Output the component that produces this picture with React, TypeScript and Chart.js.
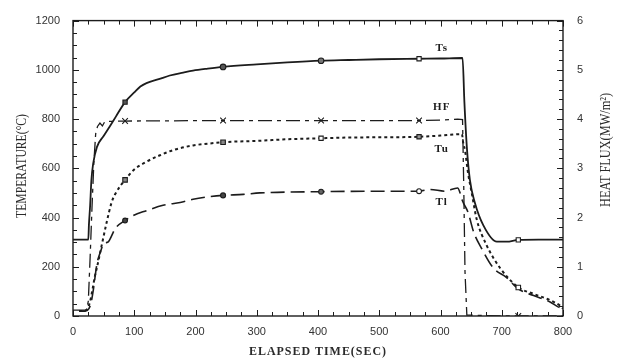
import { useEffect, useRef } from "react";
import { Chart, registerables } from "chart.js";
Chart.register(...registerables);

// ---- data (time in s, temperature in °C, heat flux in MW/m²) ----
const TS_TIME = [0, 25, 26, 28, 30, 33, 39, 50, 60, 70, 85, 100, 110, 120, 140, 158, 180, 196, 220, 245, 300, 350, 405, 450, 500, 565, 600, 636, 639, 643, 648, 656, 670, 692, 708, 727, 760, 800];
const TS_TEMP = [310, 310, 370, 450, 550, 620, 686, 731, 770, 810, 869, 908, 932, 946, 962, 977, 989, 997, 1005, 1012, 1022, 1030, 1037, 1040, 1043, 1045, 1046, 1048, 870, 686, 553, 461, 368, 302, 302, 309, 310, 310];

const HF_TIME = [0, 22, 25, 28, 31, 34, 37, 40, 44, 48, 52, 85, 245, 405, 565, 600, 628, 636, 638, 640, 643, 700, 727, 800];
const HF_FLUX = [0.12, 0.12, 0.3, 1.2, 2.2, 3.1, 3.7, 3.85, 3.92, 3.86, 3.95, 3.96, 3.97, 3.97, 3.97, 3.98, 4.0, 3.99, 2.6, 0.9, 0.02, 0, 0, 0];

const TU_TIME = [10, 20, 24, 28, 32, 36, 39, 47, 55, 63, 70, 85, 100, 115, 142, 165, 196, 220, 245, 305, 350, 405, 450, 500, 565, 600, 635, 637, 640, 645, 651, 659, 675, 697, 727, 752, 779, 795, 800];
const TU_TEMP = [20, 22, 32, 60, 110, 165, 196, 289, 381, 461, 500, 553, 595, 620, 653, 675, 693, 700, 706, 712, 718, 722, 725, 726, 728, 733, 739, 705, 673, 580, 500, 394, 289, 196, 116, 90, 64, 42, 30];

const TL_TIME = [10, 20, 26, 30, 33, 39, 45, 50, 58, 60, 69, 85, 98, 120, 147, 175, 196, 224, 245, 278, 305, 405, 501, 565, 583, 607, 628, 632, 636, 645, 654, 667, 686, 708, 727, 752, 779, 792, 800];
const TL_TEMP = [20, 20, 30, 60, 103, 210, 262, 292, 302, 310, 355, 388, 408, 428, 450, 461, 474, 485, 490, 494, 500, 505, 507, 507, 514, 507, 520, 500, 467, 421, 342, 275, 196, 156, 110, 83, 57, 37, 30];

const MARKER_TIMES = [85, 245, 405, 565, 727];

const SERIES_LABELS = ["Ts", "HF", "Tu", "Tl"];
const LABEL_TIME = [602, 602, 602, 602];
const LABEL_TEMP = [1090, 848, 679, 461];

const X_TITLE = "ELAPSED TIME(SEC)";
const Y_TITLE = "TEMPERATURE(\u00B0C)";
const Y2_TITLE = "HEAT FLUX(MW/m\u00B2)";

const INK = "#1c1c1c";

function pts(xs: number[], ys: number[]) {
  return xs.map((x, i) => ({ x, y: ys[i] }));
}

type MarkerSpec = { style: string; fill: string; r: number } | null;

function markerOpts(specs: MarkerSpec[]) {
  const get = (ctx: any): MarkerSpec => {
    const raw = ctx.raw;
    if (!raw) return null;
    const i = MARKER_TIMES.indexOf(raw.x);
    return i >= 0 ? specs[i] : null;
  };
  return {
    pointRadius: (ctx: any) => (get(ctx) ? get(ctx)!.r : 0),
    pointHoverRadius: 0,
    pointStyle: (ctx: any) => (get(ctx) ? get(ctx)!.style : "circle"),
    pointBackgroundColor: (ctx: any) => (get(ctx) ? get(ctx)!.fill : INK),
    pointBorderColor: INK,
    pointBorderWidth: 1.1,
  };
}

const framePlugin = {
  id: "frameTicks",
  afterDatasetsDraw(chart: any) {
    const { ctx, chartArea } = chart;
    const { left, right, top, bottom } = chartArea;
    const x = chart.scales.x;
    const y = chart.scales.y;
    const y2 = chart.scales.y2;
    ctx.save();
    ctx.strokeStyle = INK;
    ctx.lineWidth = 1.4;
    ctx.setLineDash([]);
    ctx.strokeRect(left, top, right - left, bottom - top);
    ctx.lineWidth = 1;
    ctx.beginPath();
    for (let v = 0; v <= 1200; v += 50) {
      const py = Math.round(y.getPixelForValue(v)) + 0.5;
      const len = v % 200 === 0 ? 6 : 4;
      ctx.moveTo(left, py);
      ctx.lineTo(left + len, py);
    }
    for (let k = 0; k <= 30; k++) {
      const v = k * 0.2;
      const py = Math.round(y2.getPixelForValue(v)) + 0.5;
      const len = k % 5 === 0 ? 6 : 4;
      ctx.moveTo(right, py);
      ctx.lineTo(right - len, py);
    }
    for (let v = 0; v <= 800; v += 25) {
      const px = Math.round(x.getPixelForValue(v)) + 0.5;
      const len = v % 100 === 0 ? 6 : 4;
      ctx.moveTo(px, bottom);
      ctx.lineTo(px, bottom - len);
      ctx.moveTo(px, top);
      ctx.lineTo(px, top + len);
    }
    ctx.stroke();

    // series labels
    ctx.fillStyle = INK;
    ctx.font = "bold 11px 'Liberation Serif'";
    (ctx as any).letterSpacing = "1px";
    ctx.textAlign = "center";
    ctx.textBaseline = "middle";
    SERIES_LABELS.forEach((t, i) => {
      ctx.fillText(t, x.getPixelForValue(LABEL_TIME[i]), y.getPixelForValue(LABEL_TEMP[i]));
    });

    // axis titles
    (ctx as any).letterSpacing = "1px";
    ctx.font = "bold 12px 'Liberation Serif'";
    ctx.fillStyle = "#2a2a2a";
    ctx.fillText(X_TITLE, (left + right) / 2, 352, 138);
    (ctx as any).letterSpacing = "0px";
    ctx.font = "14px 'Liberation Serif'";
    ctx.save();
    ctx.translate(22, 166);
    ctx.rotate(-Math.PI / 2);
    ctx.fillText(Y_TITLE, 0, 0, 104);
    ctx.restore();
    ctx.save();
    ctx.translate(606, 150);
    ctx.rotate(-Math.PI / 2);
    ctx.fillText(Y2_TITLE, 0, 0, 114);
    ctx.restore();
    ctx.restore();
  },
};

export default function App() {
  const ref = useRef<HTMLCanvasElement | null>(null);
  useEffect(() => {
    document.body.style.margin = "0";
    const canvas = ref.current!;
    const tickFont = { family: "'Liberation Sans', Arial", size: 11 };
    const plain = (v: any) => String(v);
    const chart = new Chart(canvas, {
      type: "line",
      data: {
        datasets: [
          {
            label: "Ts",
            data: pts(TS_TIME, TS_TEMP),
            borderColor: INK,
            borderWidth: 1.8,
            yAxisID: "y",
            cubicInterpolationMode: "monotone",
            ...markerOpts([
              { style: "rect", fill: "#555", r: 3 },
              { style: "circle", fill: "#555", r: 2.8 },
              { style: "circle", fill: "#777", r: 2.8 },
              { style: "rect", fill: "#fff", r: 3 },
              { style: "rect", fill: "#fff", r: 3 },
            ]),
          } as any,
          {
            label: "HF",
            data: pts(HF_TIME, HF_FLUX),
            borderColor: INK,
            borderWidth: 1.3,
            borderDash: [14, 5, 4, 5],
            yAxisID: "y2",
            ...markerOpts([
              { style: "crossRot", fill: INK, r: 4 },
              { style: "crossRot", fill: INK, r: 4 },
              { style: "crossRot", fill: INK, r: 4 },
              { style: "crossRot", fill: INK, r: 4 },
              { style: "crossRot", fill: INK, r: 4 },
            ]),
          } as any,
          {
            label: "Tu",
            data: pts(TU_TIME, TU_TEMP),
            borderColor: INK,
            borderWidth: 2,
            borderDash: [3, 3],
            yAxisID: "y",
            cubicInterpolationMode: "monotone",
            ...markerOpts([
              { style: "rect", fill: "#888", r: 3.2 },
              { style: "rect", fill: "#888", r: 3.2 },
              { style: "rect", fill: "#fff", r: 3 },
              { style: "rect", fill: "#999", r: 3 },
              { style: "rect", fill: "#fff", r: 3.2 },
            ]),
          } as any,
          {
            label: "Tl",
            data: pts(TL_TIME, TL_TEMP),
            borderColor: INK,
            borderWidth: 1.6,
            borderDash: [14, 6],
            yAxisID: "y",
            cubicInterpolationMode: "monotone",
            ...markerOpts([
              { style: "circle", fill: "#444", r: 2.4 },
              { style: "circle", fill: "#444", r: 2.5 },
              { style: "circle", fill: "#666", r: 2.4 },
              { style: "circle", fill: "#fff", r: 2.4 },
              null,
            ]),
          } as any,
        ],
      },
      options: {
        animation: false,
        responsive: false,
        events: [],
        layout: { padding: { top: 14, left: 0, right: 0, bottom: 0 } },
        plugins: { legend: { display: false }, tooltip: { enabled: false } },
        scales: {
          x: {
            type: "linear",
            min: 0,
            max: 800,
            ticks: { stepSize: 100, font: tickFont, color: "#333", padding: 9, maxRotation: 0, callback: plain },
            grid: { display: false, drawTicks: false },
            border: { display: false },
            afterFit: (s: any) => { s.height = 44; },
          },
          y: {
            type: "linear",
            position: "left",
            min: 0,
            max: 1200,
            ticks: { stepSize: 200, font: tickFont, color: "#333", padding: 13, callback: plain },
            grid: { display: false, drawTicks: false },
            border: { display: false },
            afterFit: (s: any) => { s.width = 73; },
          },
          y2: {
            type: "linear",
            position: "right",
            min: 0,
            max: 6,
            ticks: { stepSize: 1, font: tickFont, color: "#333", padding: 14, callback: plain },
            grid: { display: false, drawTicks: false },
            border: { display: false },
            afterFit: (s: any) => { s.width = 59; },
          },
        },
      } as any,
      plugins: [framePlugin],
    });
    return () => chart.destroy();
  }, []);
  return (
    <div style={{ width: 622, height: 360, background: "#fff" }}>
      <canvas ref={ref} width={622} height={360} />
    </div>
  );
}
